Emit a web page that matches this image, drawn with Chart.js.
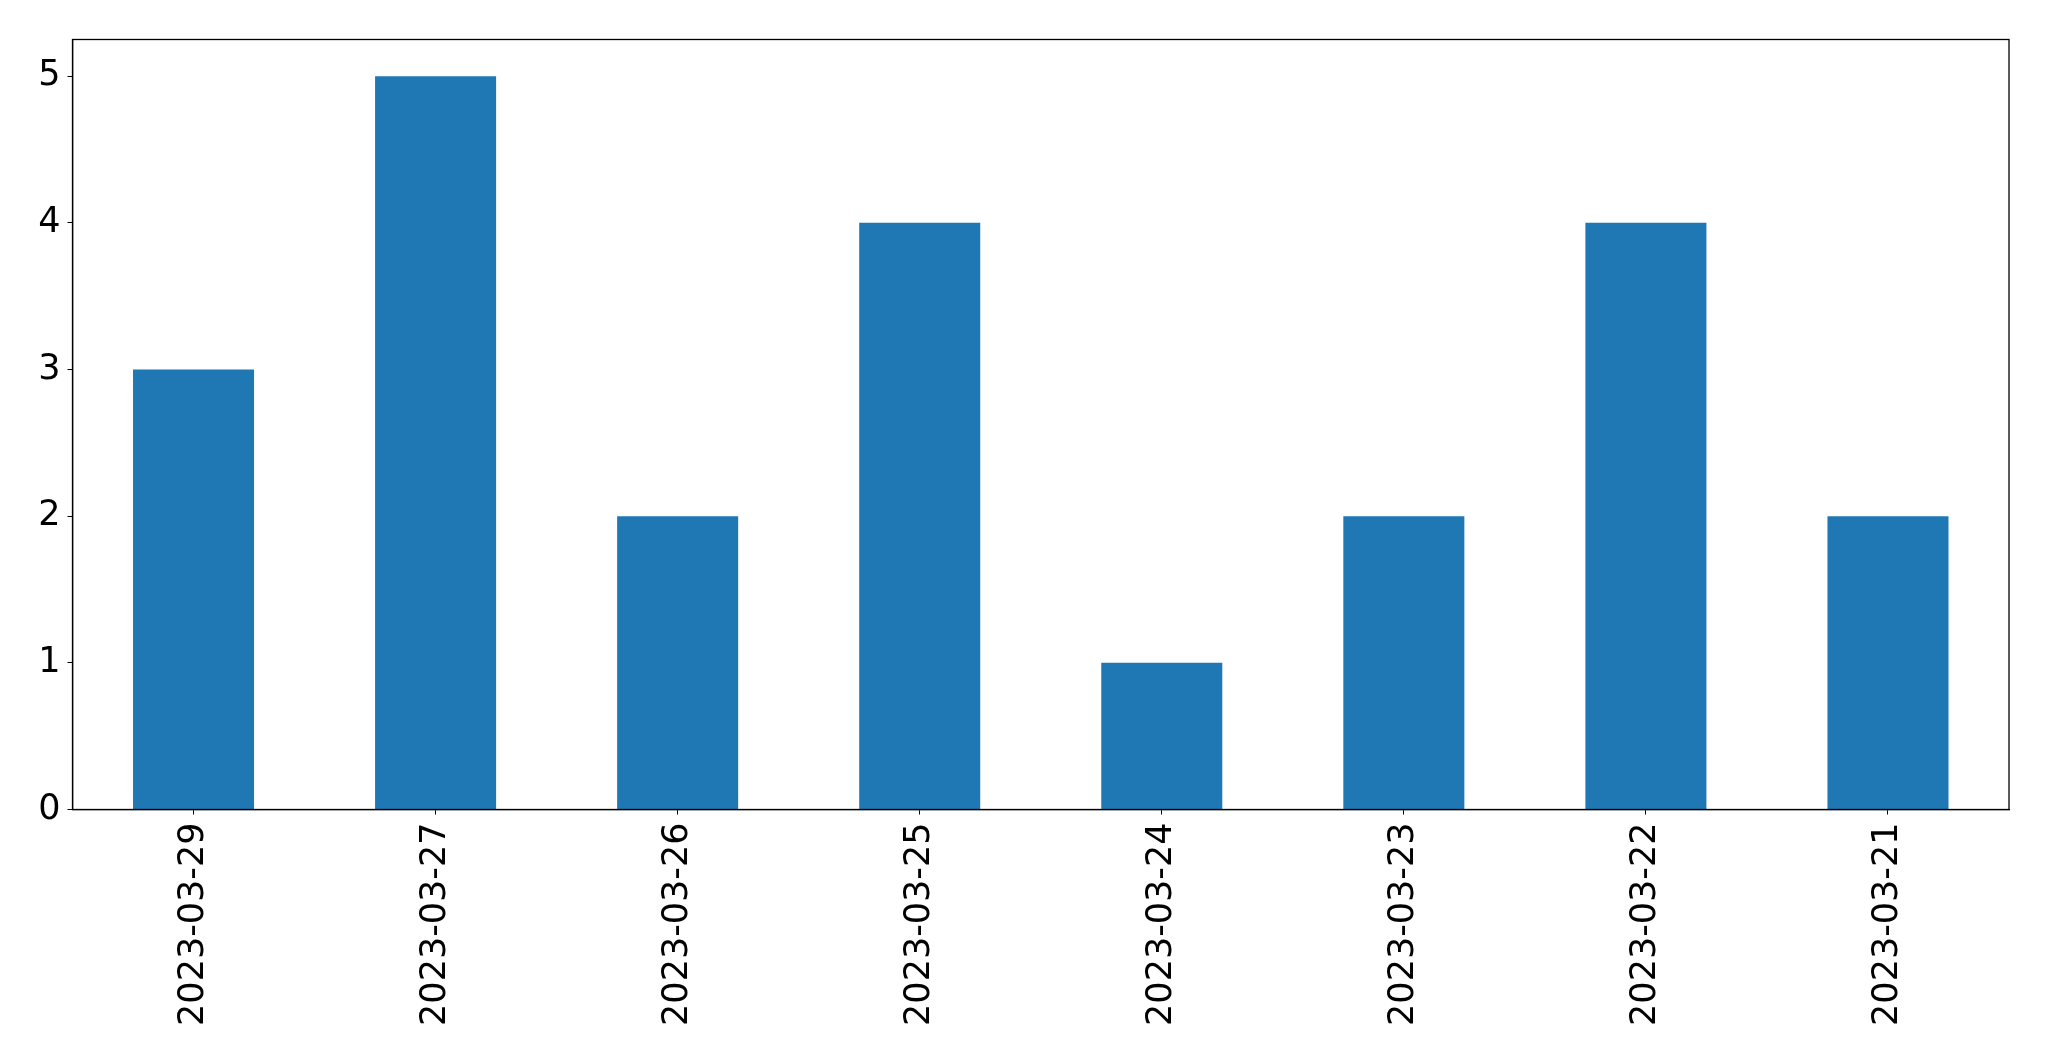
<!DOCTYPE html>
<html>
<head>
<meta charset="utf-8">
<script src="https://cdn.jsdelivr.net/npm/chart.js@4.4.0/dist/chart.umd.min.js"></script>
<style>
  html, body { margin: 0; padding: 0; background: #fff; }
  #wrap { width: 2049px; height: 1061px; }
</style>
</head>
<body>
<div id="wrap"><canvas id="c" width="2049" height="1061"></canvas></div>
<script>
const categories = ['2023-03-29', '2023-03-27', '2023-03-26', '2023-03-25', '2023-03-24', '2023-03-23', '2023-03-22', '2023-03-21'];
const counts = [3, 5, 2, 4, 1, 2, 4, 2];
const yTicks = [0, 1, 2, 3, 4, 5];

const framePlugin = {
  id: 'frame',
  afterDatasetsDraw(chart) {
    const { ctx, chartArea: a } = chart;
    ctx.save();
    ctx.strokeStyle = '#000';
    ctx.lineWidth = 1.3;
    ctx.strokeRect(a.left, a.top, a.right - a.left, a.bottom - a.top);
    ctx.restore();
  }
};

const font = { family: 'DejaVu Sans', size: 35 };

new Chart(document.getElementById('c'), {
  type: 'bar',
  data: {
    labels: categories,
    datasets: [{
      data: counts,
      backgroundColor: '#1f77b4',
      borderWidth: 0,
      barPercentage: 0.5,
      categoryPercentage: 1.0
    }]
  },
  options: {
    responsive: false,
    animation: false,
    devicePixelRatio: 1,
    layout: { padding: { top: 39.5, right: 40, left: 0, bottom: 0 } },
    plugins: { legend: { display: false }, tooltip: { enabled: false } },
    scales: {
      x: {
        offset: true,
        grid: { display: true, drawOnChartArea: false, drawTicks: true, tickLength: 5, color: '#000', offset: false },
        border: { display: true, color: '#000', width: 1.3 },
        ticks: { color: '#000', font, minRotation: 90, maxRotation: 90, autoSkip: false, padding: 8 },
        afterFit(scale) { scale.height = 251.5; }
      },
      y: {
        min: 0,
        max: 5.25,
        grid: { display: true, drawOnChartArea: false, drawTicks: true, tickLength: 5, color: '#000' },
        border: { display: true, color: '#000', width: 1.3 },
        ticks: { color: '#000', font, padding: 7 },
        afterBuildTicks(scale) { scale.ticks = yTicks.map(v => ({ value: v })); },
        afterFit(scale) { scale.width = 72.5; }
      }
    }
  },
  plugins: [framePlugin]
});
</script>
</body>
</html>
